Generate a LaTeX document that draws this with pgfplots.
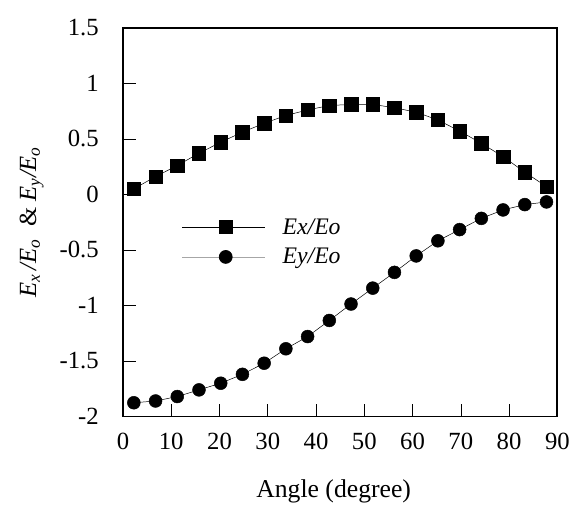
\documentclass[border=0pt]{standalone}
\usepackage{fontspec}
\setmainfont{Liberation Serif}
\usepackage{pgfplots}
\pgfplotsset{compat=1.18}
\begin{document}
\begin{tikzpicture}
\begin{axis}[
  at={(0,0)}, anchor=south west,
  scale only axis,
  width=438bp, height=392bp,
  xmin=0, xmax=90, ymin=-2, ymax=1.5,
  xtick={0,10,...,90},
  ytick={-2,-1.5,-1,-0.5,0,0.5,1,1.5},
  yticklabels={-2,-1.5,-1,-0.5,0,0.5,1,1.5},
  xticklabels={0,10,20,30,40,50,60,70,80,90},
  tick align=inside,
  xtick pos=bottom, ytick pos=left,
  major tick length=13bp,
  tick style={black, line width=0.6bp},
  axis line style={line width=1.8bp},
  ticklabel style={font=\fontsize{25}{27}\selectfont},
  xticklabel style={yshift=-13bp},
  yticklabel style={xshift=-21bp},
  xlabel={Angle (degree)},
  ylabel={\textit{E\textsubscript{x}\,/E\textsubscript{o}}\ \ \& \textit{E\textsubscript{y}/E\textsubscript{o}}},
  xlabel style={font=\fontsize{26}{28}\selectfont, at={(axis description cs:0.485,0)}, anchor=center, yshift=-75bp},
  ylabel style={font=\fontsize{25}{27}\selectfont, at={(axis description cs:0,0.5)}, anchor=center, yshift=92bp},
  legend style={draw=none, fill=none, at={(59bp,202bp)}, anchor=north west,
    font=\fontsize{24}{26}\selectfont\itshape, row sep=9bp, inner sep=0pt},
  legend cell align=left,
  legend image code/.code={
    \draw[#1, mark indices={2}] plot coordinates {(0bp,0bp) (44bp,0bp) (84bp,0bp)};
    \path (99bp,0bp);},
]
\addplot[black, line width=0.5bp, mark=square*, mark size=6.8bp, mark options={solid, fill=black}] coordinates {
(2.25,0.05) (6.75,0.16) (11.25,0.26) (15.75,0.37) (20.25,0.47) (24.75,0.56) (29.25,0.64) (33.75,0.71) (38.25,0.76) (42.75,0.80) (47.25,0.81) (51.75,0.81) (56.25,0.78) (60.75,0.74) (65.25,0.67) (69.75,0.57) (74.25,0.46) (78.75,0.34) (83.25,0.20) (87.75,0.07)
};
\addlegendentry{Ex/Eo}
\addplot[black, line width=0.5bp, mark=*, mark size=6.5bp, mark options={solid, fill=black}, forget plot] coordinates {
(2.25,-1.876) (6.75,-1.86) (11.25,-1.82) (15.75,-1.76) (20.25,-1.70) (24.75,-1.62) (29.25,-1.52) (33.75,-1.39) (38.25,-1.28) (42.75,-1.135) (47.25,-0.987) (51.75,-0.844) (56.25,-0.702) (60.75,-0.554) (65.25,-0.418) (69.75,-0.317) (74.25,-0.216) (78.75,-0.14) (83.25,-0.092) (87.75,-0.068)
};
\addlegendimage{gray!70, line width=0.8bp, mark=*, mark size=6.5bp, mark options={solid, fill=black, draw=black}}
\addlegendentry{Ey/Eo}
\end{axis}
\path[use as bounding box] (-124bp,-88bp) rectangle (449bp,420bp);
\end{tikzpicture}
\end{document}
